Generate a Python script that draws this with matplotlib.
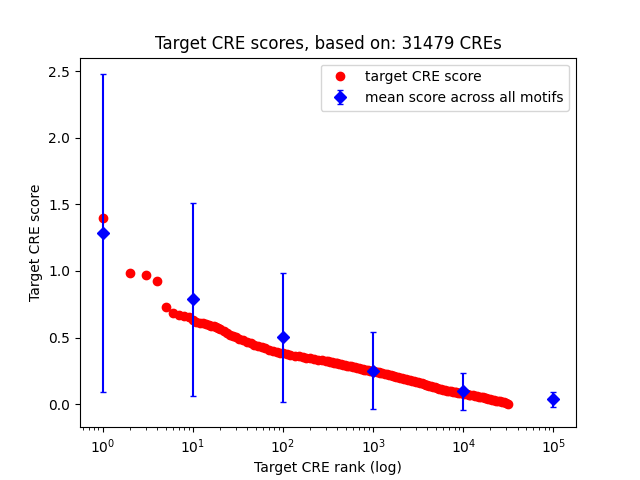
import matplotlib
matplotlib.use("Agg")
import matplotlib.pyplot as plt

# target CRE scores, ranked
ranks = [1, 2, 3, 4, 5, 6, 7, 8, 9, 10, 11, 12, 13, 14, 15, 16, 17, 18, 19, 20,
         22, 24, 26, 28, 30, 33, 36, 40, 44, 48, 53, 58, 64, 70, 77, 85, 93, 100,
         110, 120, 135, 150, 165, 180, 200, 220, 245, 270,
         300, 315, 330, 348, 365, 383, 400, 420, 440, 465, 490, 515, 540, 570,
         600, 630, 660, 695, 730, 765, 800, 840, 880, 925, 970, 1030, 1100, 1150,
         1200, 1270, 1350, 1420, 1500, 1570, 1650, 1720, 1800, 1900, 2000, 2100,
         2200, 2320, 2450, 2570, 2700, 2850, 3000, 3150, 3300, 3470, 3650, 3820,
         4000, 4200, 4400, 4650, 4900, 5150, 5400, 5700, 6000, 6300, 6600, 6950,
         7300, 7650, 8000, 8400, 8800, 9250, 9700, 10300, 11000, 11500, 12000,
         12700, 13500, 14200, 15000, 15700, 16500, 17200, 18000, 19000, 20000,
         21000, 22000, 23200, 24500, 25700, 27000, 28500, 30000, 31479]
scores = [1.396, 0.983, 0.969, 0.923, 0.728, 0.683, 0.667, 0.660, 0.652, 0.635,
          0.618, 0.610, 0.606, 0.602, 0.598, 0.590, 0.585, 0.578, 0.572, 0.565,
          0.552, 0.535, 0.520, 0.510, 0.502, 0.490, 0.478, 0.466, 0.456, 0.447,
          0.438, 0.430, 0.420, 0.410, 0.400, 0.392, 0.386, 0.383, 0.377, 0.372,
          0.365, 0.358, 0.352, 0.348, 0.343, 0.339, 0.334, 0.330,
          0.325, 0.321, 0.318, 0.315, 0.312, 0.309, 0.306, 0.303, 0.300, 0.296,
          0.293, 0.290, 0.287, 0.283, 0.280, 0.276, 0.273, 0.269, 0.266, 0.263,
          0.260, 0.257, 0.255, 0.252, 0.250, 0.246, 0.242, 0.238, 0.235, 0.231,
          0.227, 0.223, 0.220, 0.216, 0.213, 0.210, 0.207, 0.203, 0.199, 0.195,
          0.192, 0.188, 0.184, 0.180, 0.176, 0.172, 0.168, 0.164, 0.160, 0.155,
          0.151, 0.147, 0.143, 0.139, 0.135, 0.130, 0.126, 0.121, 0.117, 0.112,
          0.108, 0.104, 0.102, 0.099, 0.096, 0.093, 0.091, 0.088, 0.086, 0.083,
          0.081, 0.078, 0.075, 0.072, 0.070, 0.066, 0.063, 0.060, 0.057, 0.054,
          0.051, 0.048, 0.045, 0.041, 0.037, 0.034, 0.031, 0.027, 0.024, 0.020,
          0.017, 0.013, 0.009, 0.004]

# mean score across all motifs, with spread
mean_ranks = [1, 10, 100, 1000, 10000, 100000]
mean_scores = [1.283, 0.788, 0.502, 0.252, 0.095, 0.036]
mean_err = [1.193, 0.724, 0.486, 0.290, 0.142, 0.056]

n_cres = 31479

fig, ax = plt.subplots(figsize=(6.4, 4.8), dpi=100)
ax.plot(ranks, scores, "ro", label="target CRE score")
ax.errorbar(mean_ranks, mean_scores, yerr=mean_err, fmt="bD", capsize=2,
            label="mean score across all motifs")
ax.set_xscale("log")
ax.set_xlabel("Target CRE rank (log)")
ax.set_ylabel("Target CRE score")
ax.set_title("Target CRE scores, based on: %d CREs" % n_cres)
ax.legend(loc="upper right")
fig.savefig("out.png")
